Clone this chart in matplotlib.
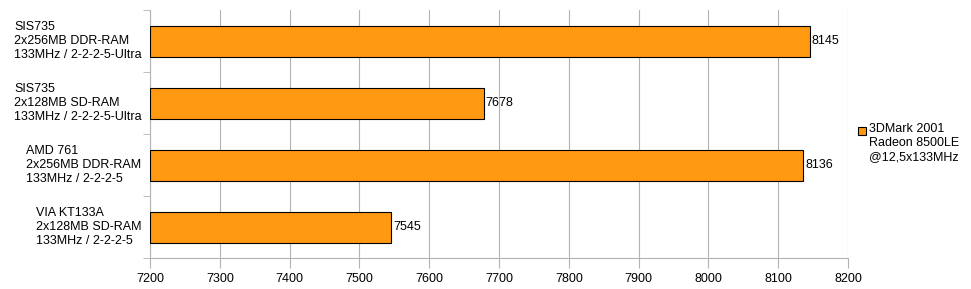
import matplotlib.pyplot as plt
import numpy as np
from matplotlib.patches import Rectangle

plt.rcParams["font.family"] = ["Liberation Sans", "DejaVu Sans"]

# data, top to bottom as shown
categories = [
    "SIS735\n2x256MB DDR-RAM\n133MHz / 2-2-2-5-Ultra",
    "SIS735\n2x128MB SD-RAM\n133MHz / 2-2-2-5-Ultra",
    "AMD 761\n2x256MB DDR-RAM\n133MHz / 2-2-2-5",
    "VIA KT133A\n2x128MB SD-RAM\n133MHz / 2-2-2-5",
]
scores = [8145, 7678, 8136, 7545]
series_name = "3DMark 2001\nRadeon 8500LE\n@12,5x133MHz"
x_ticks = [7200, 7300, 7400, 7500, 7600, 7700, 7800, 7900, 8000, 8100, 8200]

bar_color = "#ff9912"
grid_color = "#b3b3b3"

fig = plt.figure(figsize=(9.71, 2.89), dpi=100)
ax = fig.add_axes([150 / 971, 31 / 289, 698 / 971, 248 / 289])

y = np.arange(len(categories))
ax.barh(y, [s - x_ticks[0] for s in scores], left=x_ticks[0], height=0.5,
        color=bar_color, edgecolor="black", linewidth=0.8, zorder=3)

for yi, s in zip(y, scores):
    ax.text(s + 3, yi, str(s), va="center", ha="left", fontsize=9)

ax.set_xlim(x_ticks[0], x_ticks[-1])
ax.set_ylim(len(categories) - 0.5, -0.5)
ax.set_xticks(x_ticks)
ax.set_xticklabels([str(t) for t in x_ticks], fontsize=9)

# category labels, right aligned block with left aligned lines
ax.set_yticks(y)
ax.set_yticklabels([])
for yi, cat in zip(y, categories):
    ax.text(-0.012, yi, cat, transform=ax.get_yaxis_transform(), ha="right",
            va="center", multialignment="left", fontsize=9, linespacing=1.2)
ax.set_yticks(np.arange(len(categories) + 1) - 0.5, minor=True)
ax.tick_params(axis="y", which="major", length=0)
ax.tick_params(axis="y", which="minor", length=5, color=grid_color)
ax.tick_params(axis="x", length=7, color=grid_color, pad=4)

ax.grid(axis="x", color=grid_color, linewidth=0.8, zorder=0)
for side in ["top", "right"]:
    ax.spines[side].set_visible(False)
for side in ["left", "bottom"]:
    ax.spines[side].set_color(grid_color)

# legend: marker next to the first line of the series name
fig.patches.append(Rectangle((858 / 971, 1 - 135 / 289), 8 / 971, 8 / 289,
                             transform=fig.transFigure, facecolor=bar_color,
                             edgecolor="black", linewidth=0.8))
fig.text(869 / 971, 1 - 123 / 289, series_name, ha="left", va="top",
         fontsize=9, linespacing=1.2)

fig.savefig("out.png", dpi=100)
